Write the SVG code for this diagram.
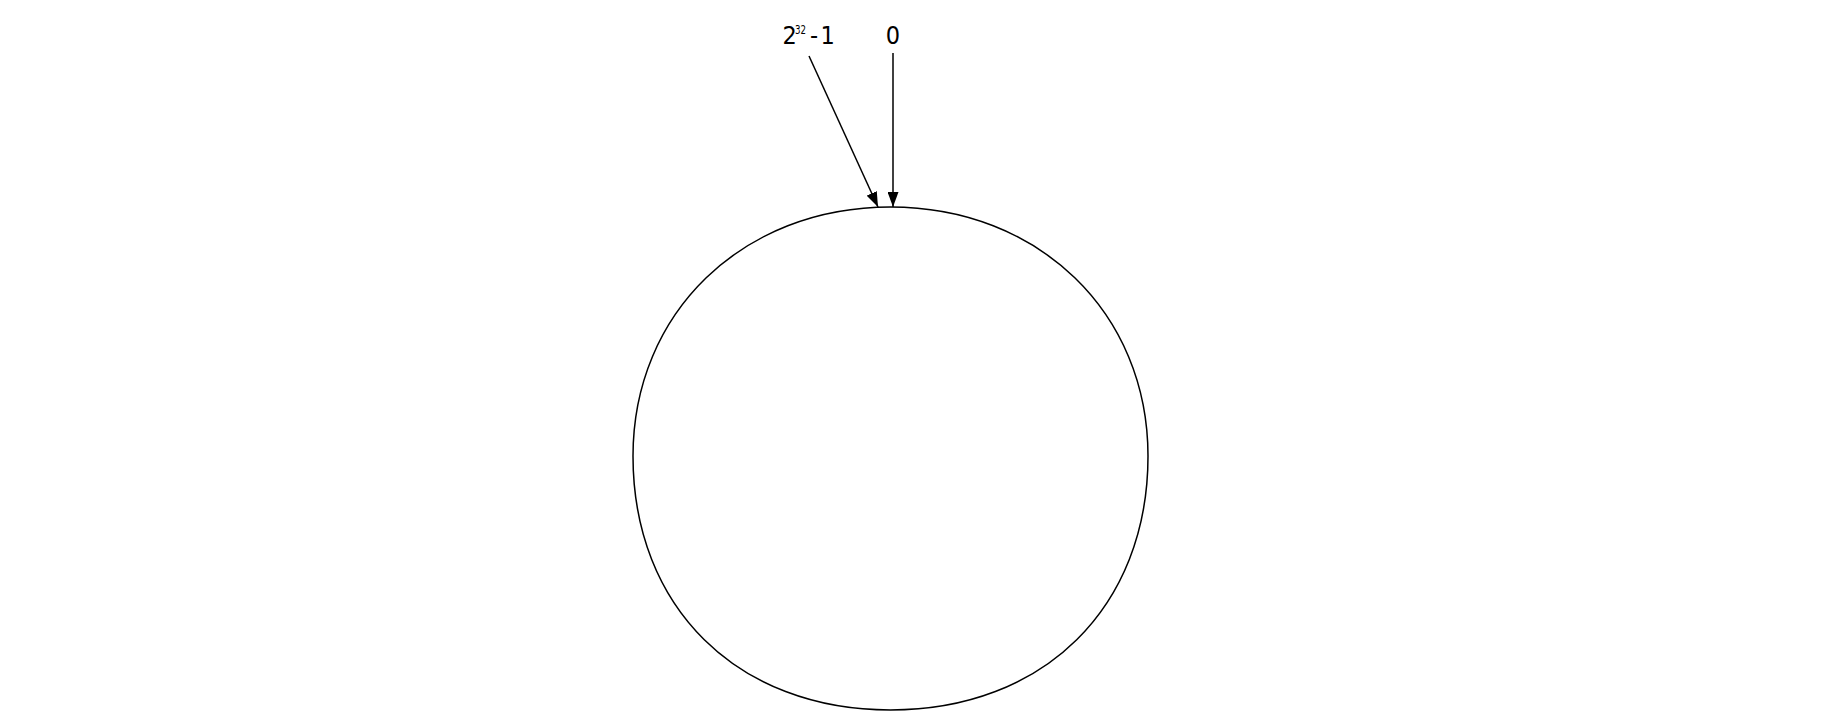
<svg xmlns="http://www.w3.org/2000/svg" width="1824" height="726" viewBox="0 0 1824 726">
<style>
.lbl{font-family:"DejaVu Sans Condensed","DejaVu Sans",sans-serif;fill:#000}
.ln{stroke:#000;stroke-width:1.5;fill:none}
</style>
<defs>
<marker id="ah" markerWidth="15" markerHeight="11" refX="15" refY="5.5" orient="auto" markerUnits="userSpaceOnUse">
<path d="M0,0 L15,5.5 L0,11 Z" fill="#000"/>
</marker>
</defs>
<rect width="1824" height="726" fill="#fff"/>
<g id="ring">
<path class="ln" d="M890.5,207 C1038.6,207 1148,312.8 1148,456 C1148,607.1 1043.7,710 890.5,710 C737.3,710 633,607.1 633,456 C633,312.8 742.4,207 890.5,207 Z"/>
</g>
<g id="label-max">
<text class="lbl" font-size="25" y="44"><tspan x="782.5">2</tspan><tspan x="795" y="34" font-size="13" textLength="11" lengthAdjust="spacingAndGlyphs">32</tspan><tspan x="810" y="44">-</tspan><tspan x="820.5">1</tspan></text>
</g>
<g id="label-zero">
<text class="lbl" x="893" y="44" font-size="25" text-anchor="middle">0</text>
</g>
<g id="connectors">
<line x1="809" y1="56" x2="878" y2="207" class="ln" marker-end="url(#ah)"/>
<line x1="893" y1="53" x2="893" y2="207" class="ln" marker-end="url(#ah)"/>
</g>
</svg>
